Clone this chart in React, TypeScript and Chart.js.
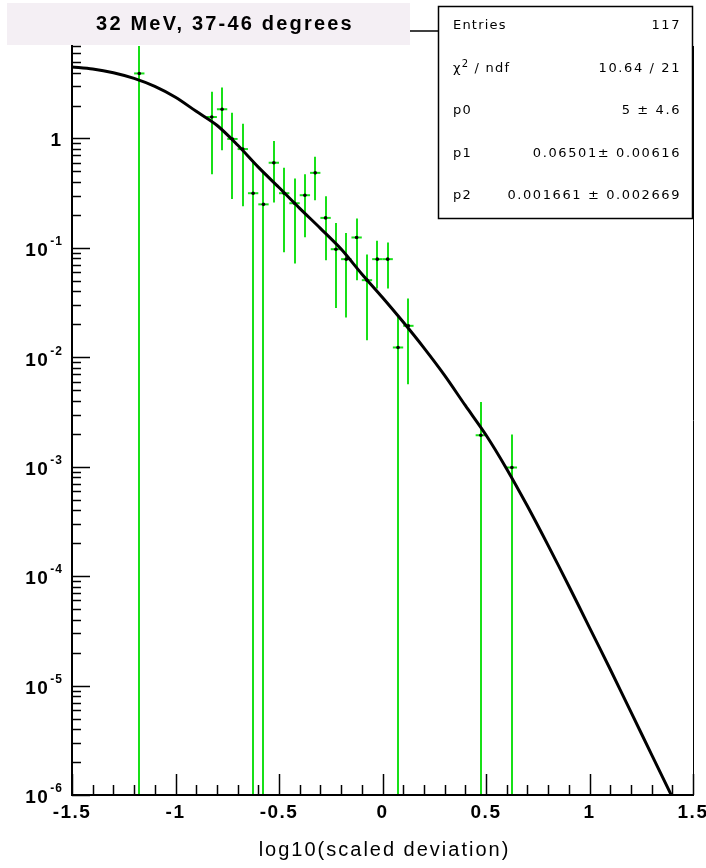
import React, { useEffect, useRef } from "react";
import { Chart, registerables } from "chart.js";

Chart.register(...registerables);

// ---------------- data ----------------
const chartTitle = "32 MeV, 37-46 degrees";
const xAxisTitle = "log10(scaled deviation)";

const statsLabels = ["Entries", "χ^2 / ndf", "p0", "p1", "p2"];
const statsValues = ["117", "10.64 / 21", "5 ± 4.6", "0.06501± 0.00616", "0.001661 ± 0.002669"];

const binCenters = [
  -1.175, -0.825, -0.775, -0.725, -0.675, -0.625, -0.575, -0.525, -0.475, -0.425, -0.375, -0.325,
  -0.275, -0.225, -0.175, -0.125, -0.075, -0.025, 0.025, 0.075, 0.125, 0.475, 0.625,
];
const binValues = [
  3.93, 1.57, 1.85, 0.99, 0.8, 0.316, 0.25, 0.6, 0.316, 0.256, 0.303, 0.485,
  0.188, 0.0973, 0.0789, 0.1245, 0.0507, 0.0789, 0.0789, 0.0123, 0.0194, 0.00194, 0.000984,
];
const binErrLow = [
  0, 0.47, 0.78, 0.28, 0.24, 0, 0, 0.26, 0.091, 0.072, 0.125, 0.273,
  0.077, 0.0283, 0.0231, 0.0507, 0.0143, 0.0426, 0.0426, 0, 0.00568, 0, 0,
];
const binErrHigh = [
  7.86, 2.67, 2.92, 1.72, 1.36, 0.632, 0.5, 0.95, 0.54, 0.43, 0.47, 0.68,
  0.297, 0.169, 0.137, 0.186, 0.087, 0.116, 0.112, 0.0243, 0.0345, 0.0039, 0.00197,
];
const binHalfWidth = 0.025;

const fitX = [
  -1.5, -1.4, -1.3, -1.2, -1.1, -1.0, -0.9, -0.8, -0.7, -0.6, -0.5, -0.4, -0.3, -0.2, -0.1,
  0.0, 0.1, 0.2, 0.3, 0.4, 0.5, 0.6, 0.7, 0.8, 0.9, 1.0, 1.1, 1.2, 1.3, 1.4,
];
const fitY = [
  4.51, 4.32, 3.99, 3.54, 2.99, 2.38, 1.77, 1.32, 0.871, 0.547, 0.356, 0.23, 0.151, 0.0977, 0.0578,
  0.0352, 0.021, 0.0122, 0.00684, 0.00363, 0.00195, 0.000955, 0.000437, 0.000191, 8.13e-5,
  3.39e-5, 1.41e-5, 5.75e-6, 2.34e-6, 9.55e-7,
];

const xTickValues = [-1.5, -1, -0.5, 0, 0.5, 1, 1.5];
const xTickLabels = ["-1.5", "-1", "-0.5", "0", "0.5", "1", "1.5"];
const yTickExponents = [0, -1, -2, -3, -4, -5, -6];

const X_MIN = -1.5;
const X_MAX = 1.5;
const Y_MIN = 1e-6;
const Y_MAX = 7;

// ---------------- layout ----------------
const W = 706;
const H = 868;
const PLOT = { left: 72, right: 693, top: 46, bottom: 795 };
const GREEN = "#18e018";
const BOLD = "'Liberation Sans', Arial, sans-serif";
const STATS_FONT = "13px 'DejaVu Sans', sans-serif";

function drawText(
  ctx: CanvasRenderingContext2D,
  s: string,
  x: number,
  y: number,
  font: string,
  align: CanvasTextAlign,
  spacing = 0
) {
  ctx.font = font;
  ctx.textAlign = align;
  ctx.textBaseline = "middle";
  (ctx as any).letterSpacing = spacing + "px";
  ctx.fillStyle = "#000";
  ctx.fillText(s, x, y);
  const w = ctx.measureText(s).width;
  (ctx as any).letterSpacing = "0px";
  return w;
}

// draws text of the form "base^sup rest" with a raised superscript
function drawSupText(ctx: CanvasRenderingContext2D, s: string, x: number, y: number, spacing: number) {
  const m = s.match(/^(.*)\^(\S+)(.*)$/);
  if (!m) {
    drawText(ctx, s, x, y, STATS_FONT, "left", spacing);
    return;
  }
  let cx = x;
  cx += drawText(ctx, m[1], cx, y, STATS_FONT, "left", spacing);
  cx += drawText(ctx, m[2], cx, y - 5, "10px 'DejaVu Sans', sans-serif", "left", spacing);
  drawText(ctx, m[3], cx, y, STATS_FONT, "left", spacing);
}

const decorPlugin = {
  id: "rootDecor",
  beforeDatasetsDraw(chart: any) {
    const { ctx, chartArea, scales } = chart;
    const xs = scales.x;
    const ys = scales.y;
    ctx.save();
    ctx.beginPath();
    ctx.rect(chartArea.left, chartArea.top, chartArea.right - chartArea.left, chartArea.bottom - chartArea.top);
    ctx.clip();
    ctx.strokeStyle = GREEN;
    ctx.lineWidth = 2;
    for (let i = 0; i < binCenters.length; i++) {
      const px = Math.round(xs.getPixelForValue(binCenters[i]));
      const py = ys.getPixelForValue(binValues[i]);
      const lo = binErrLow[i] > 0 ? ys.getPixelForValue(binErrLow[i]) : chartArea.bottom + 5;
      const hi = ys.getPixelForValue(binErrHigh[i]);
      ctx.beginPath();
      ctx.moveTo(px, lo);
      ctx.lineTo(px, hi);
      ctx.stroke();
      const x1 = xs.getPixelForValue(binCenters[i] - binHalfWidth);
      const x2 = xs.getPixelForValue(binCenters[i] + binHalfWidth);
      ctx.beginPath();
      ctx.moveTo(x1, py);
      ctx.lineTo(x2, py);
      ctx.stroke();
    }
    ctx.restore();
  },
  afterDraw(chart: any) {
    const { ctx, chartArea, scales } = chart;
    const xs = scales.x;
    const ys = scales.y;
    const L = chartArea.left;
    const R = chartArea.right;
    const T = chartArea.top;
    const B = chartArea.bottom;
    ctx.save();
    ctx.strokeStyle = "#000";

    // frame
    ctx.lineWidth = 1;
    ctx.beginPath();
    ctx.moveTo(R + 0.5, T);
    ctx.lineTo(R + 0.5, B);
    ctx.stroke();
    ctx.lineWidth = 2;
    ctx.beginPath();
    ctx.moveTo(L, T - 2);
    ctx.lineTo(L, B);
    ctx.lineTo(R + 1, B);
    ctx.stroke();

    // x ticks
    ctx.lineWidth = 1.5;
    for (let i = 0; i <= 30; i++) {
      const v = X_MIN + i * 0.1;
      const px = Math.round(xs.getPixelForValue(v)) + 0.5;
      const major = i % 5 === 0;
      ctx.beginPath();
      ctx.moveTo(px, B);
      ctx.lineTo(px, B - (major ? 21 : 10));
      ctx.stroke();
    }
    // y ticks
    for (const e of yTickExponents) {
      for (let m = 1; m <= 9; m++) {
        const v = m * Math.pow(10, e);
        if (v > Y_MAX || v < Y_MIN) continue;
        const py = Math.round(ys.getPixelForValue(v)) + 0.5;
        ctx.beginPath();
        ctx.moveTo(L, py);
        ctx.lineTo(L + (m === 1 ? 18 : 9), py);
        ctx.stroke();
      }
    }

    // x tick labels
    xTickValues.forEach((v, i) => {
      drawText(ctx, xTickLabels[i], xs.getPixelForValue(v), B + 18, "bold 19px " + BOLD, "center", 1.5);
    });
    // y tick labels
    for (const e of yTickExponents) {
      const py = ys.getPixelForValue(Math.pow(10, e));
      if (e === 0) {
        drawText(ctx, "1", 61, py + 2, "bold 19px " + BOLD, "right", 0);
      } else {
        const ex = String(e);
        ctx.font = "bold 12px " + BOLD;
        (ctx as any).letterSpacing = "1px";
        const w = ctx.measureText(ex).width;
        drawText(ctx, ex, 63, py - 6, "bold 12px " + BOLD, "right", 1);
        drawText(ctx, "10", 63 - w - 1, py + 3, "bold 19px " + BOLD, "right", 1.5);
      }
    }
    // axis title
    drawText(ctx, xAxisTitle, (L + R) / 2 + 2, 850, "20px " + BOLD, "center", 2);

    // title box
    ctx.fillStyle = "#f4eff4";
    ctx.fillRect(7, 3, 403, 42);
    drawText(ctx, chartTitle, 225, 24, "bold 20px " + BOLD, "center", 2.2);

    // connector
    ctx.strokeStyle = "#000";
    ctx.lineWidth = 1.5;
    ctx.beginPath();
    ctx.moveTo(410, 31);
    ctx.lineTo(438, 31);
    ctx.stroke();

    // stats box
    const sx = 438.5, sy = 6.5, sw = 254, sh = 212;
    ctx.fillStyle = "#fff";
    ctx.fillRect(sx, sy, sw, sh);
    ctx.lineWidth = 1.5;
    ctx.strokeRect(sx, sy, sw, sh);
    const rows = [26, 69, 111, 154, 196];
    statsLabels.forEach((s, i) => {
      drawSupText(ctx, s, 453, rows[i], 1.2);
      drawText(ctx, statsValues[i], 681, rows[i], STATS_FONT, "right", 1.6);
    });
    ctx.restore();
  },
};

export default function App() {
  const ref = useRef<HTMLCanvasElement | null>(null);
  useEffect(() => {
    const canvas = ref.current;
    if (!canvas) return;
    const chart = new Chart(canvas, {
      type: "scatter",
      data: {
        datasets: [
          {
            label: "data",
            data: binCenters.map((x, i) => ({ x, y: binValues[i] })),
            pointRadius: 1.8,
            pointBackgroundColor: "#000",
            pointBorderColor: "#000",
            pointBorderWidth: 0,
            showLine: false,
          },
          {
            label: "fit",
            data: fitX.map((x, i) => ({ x, y: fitY[i] })),
            showLine: true,
            borderColor: "#000",
            borderWidth: 3,
            pointRadius: 0,
            tension: 0.3,
            fill: false,
          },
        ],
      },
      options: {
        animation: false,
        responsive: false,
        devicePixelRatio: 1,
        events: [],
        layout: {
          padding: { left: PLOT.left, right: W - PLOT.right, top: PLOT.top, bottom: H - PLOT.bottom },
        },
        plugins: {
          legend: { display: false },
          tooltip: { enabled: false },
          title: { display: false },
        },
        scales: {
          x: { type: "linear", min: X_MIN, max: X_MAX, display: false },
          y: { type: "logarithmic", min: Y_MIN, max: Y_MAX, display: false },
        },
      },
      plugins: [decorPlugin],
    } as any);
    return () => chart.destroy();
  }, []);
  return (
    <div style={{ position: "absolute", left: 0, top: 0, width: W, height: H, background: "#fff" }}>
      <canvas ref={ref} width={W} height={H} style={{ display: "block", width: W, height: H }} />
    </div>
  );
}
